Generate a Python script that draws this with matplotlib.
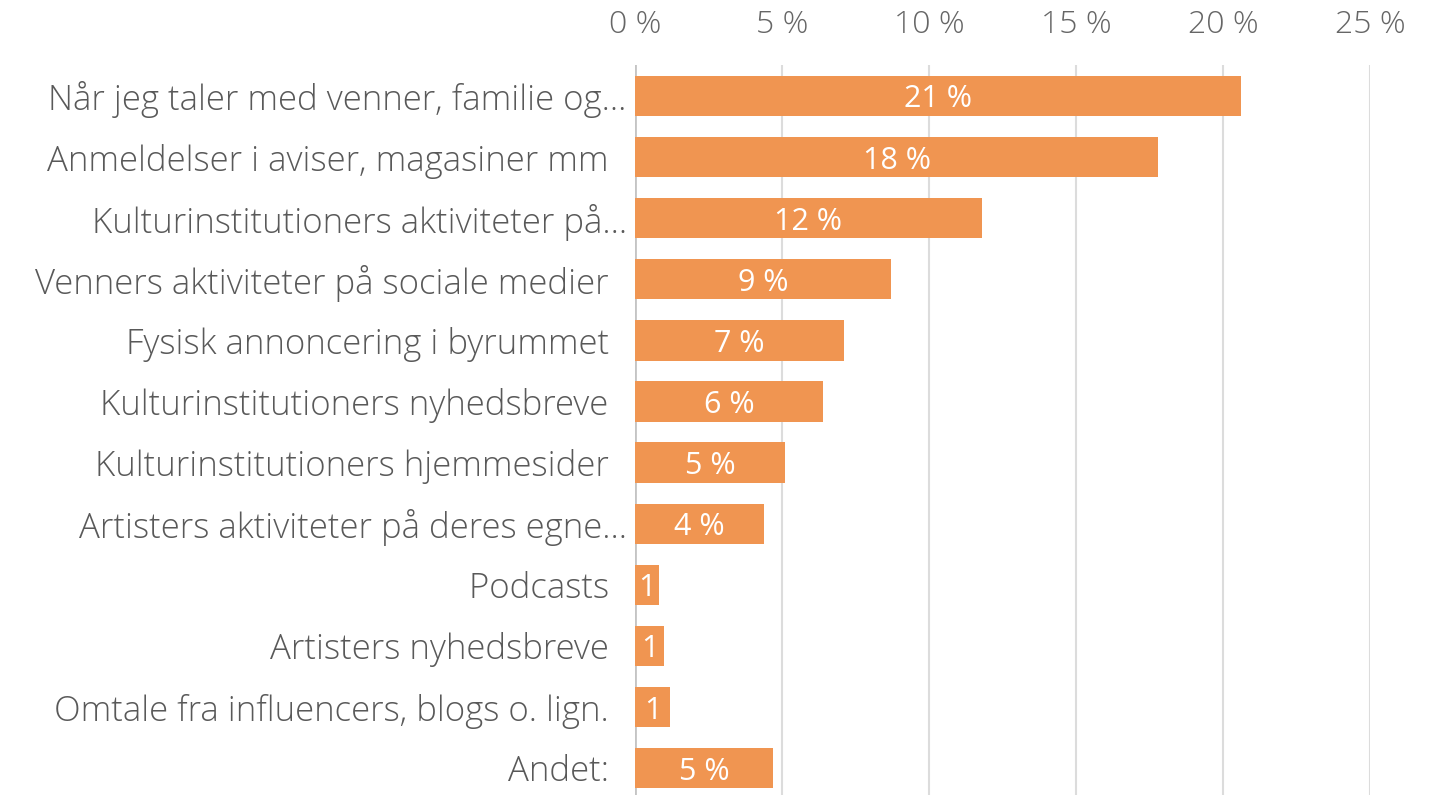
import matplotlib.pyplot as plt

categories = [
    "Når jeg taler med venner, familie og...",
    "Anmeldelser i aviser, magasiner mm  ",
    "Kulturinstitutioners aktiviteter på...",
    "Venners aktiviteter på sociale medier  ",
    "Fysisk annoncering i byrummet  ",
    "Kulturinstitutioners nyhedsbreve  ",
    "Kulturinstitutioners hjemmesider  ",
    "Artisters aktiviteter på deres egne...",
    "Podcasts  ",
    "Artisters nyhedsbreve  ",
    "Omtale fra influencers, blogs o. lign.  ",
    "Andet:  ",
]
values = [20.6, 17.8, 11.8, 8.7, 7.1, 6.4, 5.1, 4.4, 0.8, 1.0, 1.2, 4.7]
ticks = [0, 5, 10, 15, 20, 25]

plt.rcParams['font.family'] = ['Open Sans', 'DejaVu Sans']
plt.rcParams['font.weight'] = 'light'

fig = plt.figure(figsize=(14.32, 7.95), dpi=100)
ax = fig.add_axes([635 / 1432, 0, 735 / 1432, 1 - 65 / 795])

y = list(range(len(categories)))
bars = ax.barh(y, values, height=0.66, color="#F09551", zorder=3)

# bar labels, white, centred; tiny bars only show the number
for b, v in zip(bars, values):
    txt = f"{round(v)} %" if v >= 2 else f"{round(v)}"
    ax.text(b.get_x() + b.get_width() / 2, b.get_y() + b.get_height() / 2, txt,
            ha="center", va="center_baseline", color="white", fontsize=22,
            fontweight="normal", zorder=4)

ax.set_xlim(0, 25)
ax.set_ylim(11.44, -0.507)
ax.set_xticks(ticks)
ax.set_xticklabels([f"{t} %" for t in ticks])
ax.xaxis.tick_top()
ax.tick_params(axis="x", length=0, pad=17, labelsize=23, labelcolor="#666666")
ax.set_yticks(y)
ax.set_yticklabels(categories)
ax.tick_params(axis="y", length=0, pad=6, labelsize=25, labelcolor="#595959")

for s in ax.spines.values():
    s.set_visible(False)
ax.grid(axis="x", color="#dcdcdc", linewidth=1.5, zorder=0)
ax.axvline(0, color="#c4c4c4", linewidth=2, zorder=2)

fig.savefig("out.png", dpi=100)
